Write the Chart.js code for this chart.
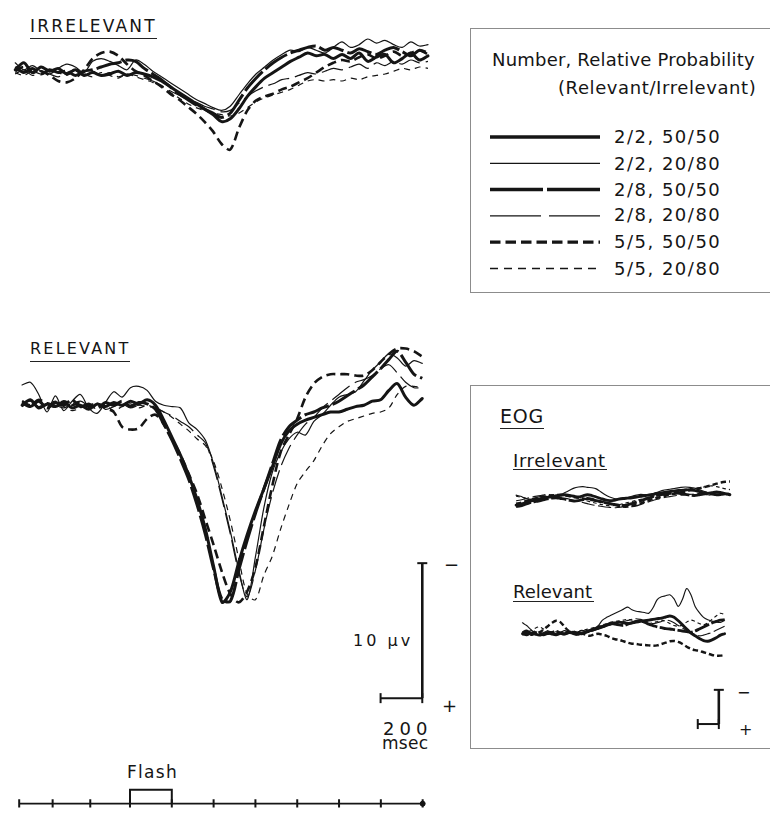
<!DOCTYPE html>
<html>
<head>
<meta charset="utf-8">
<script src="https://cdn.jsdelivr.net/npm/chart.js@4.4.1/dist/chart.umd.min.js"></script>
<style>
  body { margin: 0; background: #fff; }
  #fig { position: relative; width: 770px; height: 814px; overflow: hidden;
         font-family: "DejaVu Sans", sans-serif; color: #151515; }
  #fig canvas { position: absolute; }
  .t { position: absolute; white-space: nowrap; line-height: 1; }
  .u { position: absolute; height: 0; border-top: 1.5px solid #222; }
  .box { position: absolute; border: 1px solid #8c8c8c; border-right: none; }
</style>
</head>
<body>
<div id="fig">
  <div class="t" style="left:30px;top:18px;font-size:17px;letter-spacing:2.2px">IRRELEVANT</div>
  <div class="u" style="left:30px;top:38px;width:127px"></div>
  <div class="t" style="left:30px;top:341px;font-size:16px;letter-spacing:2.2px">RELEVANT</div>
  <div class="u" style="left:30px;top:361px;width:100px"></div>

  <div class="box" style="left:470px;top:28px;width:320px;height:263px"></div>
  <div class="t" style="left:492px;top:51px;font-size:18px;letter-spacing:0.2px">Number, Relative Probability</div>
  <div class="t" style="left:558px;top:79px;font-size:18px;letter-spacing:0.6px">(Relevant/Irrelevant)</div>
  <div class="t" style="left:614px;top:128px;font-size:18px;letter-spacing:1.5px">2/2, 50/50</div>
  <div class="t" style="left:614px;top:154.5px;font-size:18px;letter-spacing:1.5px">2/2, 20/80</div>
  <div class="t" style="left:614px;top:181px;font-size:18px;letter-spacing:1.5px">2/8, 50/50</div>
  <div class="t" style="left:614px;top:206px;font-size:18px;letter-spacing:1.5px">2/8, 20/80</div>
  <div class="t" style="left:614px;top:233px;font-size:18px;letter-spacing:1.5px">5/5, 50/50</div>
  <div class="t" style="left:614px;top:259.5px;font-size:18px;letter-spacing:1.5px">5/5, 20/80</div>

  <div class="box" style="left:470px;top:385px;width:320px;height:362px"></div>
  <div class="t" style="left:500px;top:407px;font-size:19px;letter-spacing:0.8px">EOG</div>
  <div class="u" style="left:500px;top:428px;width:44px"></div>
  <div class="t" style="left:513px;top:452px;font-size:18px;letter-spacing:0.6px">Irrelevant</div>
  <div class="u" style="left:513px;top:469px;width:94px"></div>
  <div class="t" style="left:513px;top:583px;font-size:18px">Relevant</div>
  <div class="u" style="left:513px;top:601px;width:81px"></div>
  <div class="t" style="left:737px;top:685px;font-size:16px">−</div>
  <div class="t" style="left:739px;top:722px;font-size:16px">+</div>

  <div class="t" style="left:353px;top:633px;font-size:16px;letter-spacing:3px">10 μv</div>
  <div class="t" style="left:444px;top:556px;font-size:18px">−</div>
  <div class="t" style="left:442px;top:697px;font-size:18px">+</div>
  <div class="t" style="left:383px;top:719.5px;font-size:18px;letter-spacing:5px">200</div>
  <div class="t" style="left:382px;top:735px;font-size:17px;letter-spacing:0.3px">msec</div>
  <div class="t" style="left:127px;top:764px;font-size:17px;letter-spacing:1.3px">Flash</div>
</div>

<script>
// Sample times (ms from flash onset)
const times = [
  -520, -480, -440, -400, -360, -320, -280, -240, -200, -160,
  -120, -80, -40, 0, 40, 80, 120, 160, 200, 240,
  280, 320, 360, 400, 440, 480, 520, 560, 600, 640,
  680, 720, 760, 800, 840, 880, 920, 960, 1000, 1040,
  1080, 1120, 1160, 1200, 1240, 1280, 1320, 1360, 1400
];

const conditions = ['2/2, 50/50', '2/2, 20/80', '2/8, 50/50', '2/8, 20/80', '5/5, 50/50', '5/5, 20/80'];

// ERP, irrelevant stimuli (µV, positive plotted down)
const irr2250 = [0.2, -0.3, 0.4, 0.0, 0.3, 0.1, 0.5, 0.2, 0.6, 0.4,
  0.6, 0.5, 0.3, 0.6, 0.4, 0.5, 0.7, 1.0, 1.4, 1.8,
  2.2, 2.6, 3.0, 3.4, 3.9, 3.7, 3.0, 2.1, 1.4, 0.8,
  0.4, 0.0, -0.4, -0.7, -1.0, -0.8, -0.9, -0.6, -0.9, -0.6,
  -1.0, -0.4, -0.7, -0.9, -0.3, -0.6, -1.0, -0.5, -0.8];
const irr2280 = [-0.3, 0.2, -0.1, 0.3, 0.5, 0.1, -0.2, 0.0, 0.4, -0.4,
  -0.6, -0.4, -0.1, 0.2, -0.5, -0.2, 0.3, 0.7, 1.1, 1.5,
  1.9, 2.3, 2.6, 2.9, 3.1, 2.8, 2.0, 1.2, 0.5, 0.0,
  -0.5, -0.9, -1.2, -1.1, -1.4, -1.2, -1.0, -1.4, -1.8, -1.4,
  -1.6, -2.0, -1.7, -1.9, -1.6, -1.4, -1.8, -1.5, -1.6];
const irr2850 = [0.0, 0.4, 0.1, 0.5, 0.2, 0.4, 0.3, 0.6, 0.3, 0.2,
  0.0, -0.2, -0.3, -0.5, -0.4, 0.1, 0.5, 0.9, 1.4, 1.9,
  2.3, 2.7, 3.0, 3.3, 3.6, 3.3, 2.4, 1.5, 0.8, 0.2,
  -0.3, -0.7, -1.0, -1.2, -1.4, -1.5, -1.2, -1.4, -1.2, -1.0,
  -1.3, -1.1, -0.9, -1.2, -1.4, -1.1, -0.8, -1.2, -1.0];
const irr2880 = [0.5, 0.2, 0.6, 0.3, 0.5, 0.7, 0.4, 0.2, 0.5, 0.3,
  0.6, 0.4, 0.7, 0.5, 0.6, 0.8, 1.0, 1.3, 1.7, 2.0,
  2.3, 2.5, 2.8, 3.0, 3.2, 3.1, 2.6, 2.1, 1.7, 1.4,
  1.2, 0.9, 0.8, 0.6, 0.4, 0.5, 0.3, 0.1, 0.2, 0.0,
  -0.2, 0.1, -0.3, -0.1, -0.4, -0.2, -0.5, -0.3, -0.4];
const irr5550 = [0.3, 0.0, 0.4, 0.3, 0.6, 1.0, 1.1, 0.8, 0.2, -0.6,
  -1.0, -1.1, -0.8, -0.2, 0.3, 0.6, 1.0, 1.4, 1.9, 2.3,
  2.8, 3.3, 3.9, 4.6, 5.5, 5.9, 4.4, 3.1, 2.4, 2.1,
  1.9, 1.6, 1.4, 1.1, 0.8, 0.4, 0.0, -0.3, -0.5, -0.4,
  -0.7, -0.9, -0.6, -0.8, -1.1, -0.8, -1.0, -1.2, -0.9];
const irr5580 = [0.4, 0.6, 0.3, 0.5, 0.2, 0.4, 0.6, 0.3, 0.5, 0.7,
  0.4, 0.6, 0.8, 0.5, 0.7, 0.9, 1.1, 1.4, 1.8, 2.2,
  2.6, 2.9, 3.1, 3.3, 3.4, 3.5, 3.3, 2.9, 2.5, 2.2,
  2.0, 1.8, 1.6, 1.3, 1.0, 0.9, 1.0, 0.9, 1.0, 0.8,
  0.9, 0.7, 0.6, 0.5, 0.3, 0.1, 0.2, 0.0, 0.1];

// ERP, relevant stimuli
const rel2250 = [0.4, 0.0, 0.6, 0.3, 0.5, 0.2, 0.6, 0.4, 0.7, 0.3,
  0.5, 0.2, 0.4, 0.1, 0.3, 0.0, 0.4, 1.5, 2.8, 4.1,
  5.6, 7.4, 9.6, 12.4, 15.0, 14.2, 12.0, 10.0, 8.2, 6.6,
  5.0, 3.3, 2.3, 1.8, 1.5, 1.3, 1.1, 0.9, 0.9, 0.7,
  0.5, 0.4, 0.1, 0.0, -0.7, -1.2, -0.2, 0.4, -0.1];
const rel2280 = [-1.1, -1.3, -0.4, 0.9, -0.3, 0.8, 0.1, -0.4, 0.6, 1.0,
  0.2, -0.6, -0.2, -0.9, -1.0, -0.7, 0.1, 0.4, 0.5, 0.6,
  1.7, 2.2, 3.0, 4.8, 7.2, 9.8, 12.6, 14.8, 11.6, 8.0,
  5.4, 3.9, 2.9, 2.4, 2.6, 1.6, 1.1, 0.4, -0.2, -0.4,
  -0.6, -1.4, -2.2, -2.8, -3.4, -3.1, -2.5, -2.9, -2.7];
const rel2850 = [0.2, 0.5, 0.1, 0.6, 0.2, 0.4, 0.0, 0.5, 0.3, 0.6,
  0.2, 0.4, 0.1, 0.5, 0.2, 0.3, 0.7, 1.8, 3.0, 4.4,
  5.9, 7.8, 10.0, 12.6, 14.8, 14.9, 12.6, 10.4, 8.4, 6.6,
  4.8, 3.0, 2.0, 1.5, 1.1, 0.9, 0.6, 0.4, 0.1, -0.3,
  -0.7, -1.1, -1.7, -2.3, -3.0, -3.6, -2.8, -1.9, -1.6];
const rel2880 = [0.3, 0.1, 0.5, 0.2, 0.4, 0.6, 0.3, 0.1, 0.4, 0.2,
  0.7, 0.5, 0.3, 0.6, 0.4, 0.5, 0.6, 0.9, 1.2, 1.6,
  2.0, 2.6, 3.2, 5.0, 7.4, 10.0, 12.8, 14.6, 12.6, 9.6,
  7.0, 5.0, 3.6, 2.6, 1.8, 1.3, 0.6, 0.1, -0.4, -0.9,
  -1.3, -1.5, -1.8, -2.3, -2.6, -2.0, -1.3, -0.9, -0.9];
const rel5550 = [0.1, 0.4, 0.0, 0.3, 0.5, 0.1, 0.4, 0.2, 0.5, 0.3,
  0.6, 0.9, 2.0, 2.2, 2.1, 1.4, 1.1, 1.8, 2.9, 4.1,
  5.5, 7.0, 8.9, 10.8, 12.8, 14.4, 15.0, 14.2, 12.4, 9.4,
  6.4, 3.9, 2.6, 1.4, -0.2, -1.2, -1.7, -1.9, -1.9, -1.9,
  -1.8, -1.8, -2.2, -2.8, -3.4, -3.8, -3.8, -3.6, -3.2];
const rel5580 = [0.5, 0.2, 0.6, 0.4, 0.1, 0.5, 0.8, 0.6, 0.3, 0.7,
  0.4, 0.8, 0.5, 0.3, 0.6, 0.4, 0.6, 0.9, 1.3, 1.8,
  2.3, 2.9, 3.4, 4.6, 6.6, 9.0, 11.8, 14.4, 14.8, 13.0,
  11.6, 9.6, 7.8, 6.2, 5.3, 4.5, 3.4, 2.5, 2.0, 1.6,
  1.4, 1.2, 1.0, 0.9, 0.6, -0.4, -1.0, -1.0, -0.9];

// EOG, irrelevant stimuli
const eogIrr2250 = [2.2, 2.0, 1.6, 1.2, 0.9, 0.6, 0.3, 0.1, -0.1, -0.3,
  -0.5, -0.6, -0.4, -0.2, 0.0, -0.3, -0.6, -0.4, 0.0, 0.4,
  0.8, 1.0, 0.9, 0.6, 0.4, 0.3, 0.2, 0.0, -0.2, -0.4,
  -0.5, -0.8, -1.0, -1.2, -1.4, -1.6, -1.7, -1.8, -1.9, -2.0,
  -1.8, -1.5, -1.2, -1.0, -1.2, -1.4, -1.2, -0.9, -0.6];
const eogIrr2280 = [-0.5, -0.2, 0.3, 0.6, 0.4, 0.0, -0.3, -0.1, 0.2, -0.2,
  -0.6, -1.2, -1.8, -2.4, -2.7, -2.8, -2.6, -2.5, -2.2, -1.4,
  -0.6, 0.0, 0.4, 0.6, 0.5, 0.2, -0.2, -0.5, -0.7, -0.6,
  -0.8, -1.0, -1.4, -1.8, -2.0, -2.2, -2.4, -2.6, -2.7, -2.6,
  -2.4, -2.0, -1.6, -1.2, -1.0, -0.8, -0.7, -0.8, -0.9];
const eogIrr2850 = [2.6, 2.4, 2.0, 1.6, 1.3, 1.1, 0.8, 0.5, 0.3, 0.2,
  0.4, 0.6, 0.9, 1.1, 1.0, 0.7, 0.4, 0.6, 1.0, 1.3,
  1.5, 1.8, 2.0, 2.2, 2.3, 2.1, 1.8, 1.4, 1.0, 0.6,
  0.2, -0.2, -0.5, -0.7, -0.9, -1.0, -1.1, -0.9, -0.7, -0.5,
  -0.4, -0.6, -0.8, -0.9, -0.8, -0.6, -0.7, -0.9, -0.7];
const eogIrr2880 = [1.0, 0.8, 0.5, 0.2, -0.1, -0.3, -0.5, -0.7, -0.6, -0.3,
  0.0, 0.3, 0.6, 0.9, 1.2, 1.5, 1.8, 2.1, 2.3, 2.5,
  2.7, 2.8, 2.9, 2.8, 2.7, 2.6, 2.6, 2.4, 2.0, 1.6,
  1.2, 0.8, 0.5, 0.2, 0.0, -0.2, -0.4, -0.5, -0.6, -0.7,
  -0.8, -0.9, -0.8, -0.6, -0.5, -0.6, -0.7, -0.6, -0.5];
const eogIrr5550 = [1.8, 1.6, 1.2, 0.8, 0.5, 0.2, 0.0, -0.2, -0.4, -0.5,
  -0.6, -0.4, -0.2, 0.0, 0.2, 0.4, 0.6, 0.8, 1.0, 1.2,
  1.5, 1.8, 2.1, 2.4, 2.6, 2.6, 2.4, 2.1, 1.7, 1.2,
  0.8, 0.4, 0.1, -0.2, -0.5, -0.8, -1.0, -1.3, -1.5, -1.8,
  -2.0, -2.3, -2.6, -2.9, -3.2, -3.6, -3.9, -4.1, -4.2];
const eogIrr5580 = [-0.2, 0.0, 0.3, 0.6, 0.9, 0.7, 0.4, 0.1, -0.2, -0.5,
  -0.7, -0.5, -0.2, 0.1, 0.4, 0.8, 1.1, 1.4, 1.7, 2.0,
  2.2, 2.4, 2.3, 2.1, 1.8, 1.5, 1.2, 0.9, 0.6, 0.3,
  0.0, -0.3, -0.6, -0.9, -1.2, -1.5, -1.7, -1.9, -2.1, -2.3,
  -2.4, -2.5, -2.7, -2.9, -3.0, -2.8, -2.5, -2.2, -2.0];

// EOG, relevant stimuli
const eogRel2250 = [0.6, 0.9, 0.4, 0.7, 1.0, 0.6, 0.3, 0.7, 0.9, 0.5,
  0.6, 0.2, 0.5, 0.8, 0.4, 0.1, -0.3, -0.8, -1.2, -1.6,
  -2.0, -2.4, -2.6, -2.8, -2.6, -2.4, -2.6, -2.8, -3.0, -3.2,
  -3.4, -3.6, -3.8, -4.0, -4.3, -4.6, -4.2, -3.2, -2.0, -0.8,
  0.4, 1.2, 2.0, 2.6, 2.8, 2.4, 1.8, 1.0, 0.6];
const eogRel2280 = [-2.6, -1.8, -0.6, 0.4, 0.8, 0.3, -0.2, 0.1, 0.6, 0.2,
  -0.3, 0.1, 0.5, 0.2, -0.4, -0.2, -0.6, -1.0, -1.8, -3.4,
  -4.2, -4.8, -5.4, -6.0, -6.6, -7.2, -6.4, -6.0, -5.8, -5.6,
  -5.4, -7.0, -9.4, -10.2, -10.5, -10.8, -9.6, -7.4, -9.5, -12.6,
  -10.8, -7.4, -5.6, -4.2, -3.5, -3.1, -2.8, -2.7, -3.4];
const eogRel2850 = [0.3, -0.2, 0.5, 0.2, 0.6, 0.9, 0.5, 0.2, -0.1, 0.4,
  0.7, 0.3, 0.0, 0.4, 0.6, 0.2, -0.2, -0.6, -1.0, -1.4,
  -1.9, -2.4, -2.2, -2.0, -1.8, -2.2, -2.6, -3.0, -3.2, -2.8,
  -2.2, -1.8, -1.4, -1.2, -0.9, -0.8, -0.6, -0.4, -0.2, 0.0,
  0.2, -0.2, -0.8, -1.4, -2.0, -2.6, -3.0, -3.4, -3.5];
const eogRel2880 = [0.2, 0.6, 0.3, -0.2, 0.1, 0.5, 0.8, 0.4, 0.0, 0.3,
  0.7, 0.4, -0.1, 0.2, 0.5, 0.3, 0.0, -0.4, -0.8, -1.2,
  -1.6, -2.0, -2.4, -2.8, -3.0, -3.3, -3.6, -3.8, -3.6, -3.2,
  -2.8, -2.4, -2.6, -3.0, -3.4, -3.2, -2.6, -1.8, -1.0, -0.4,
  0.2, 0.8, 1.2, 1.0, 0.6, 0.2, -0.4, -1.0, -1.6];
const eogRel5550 = [0.8, 0.4, 0.9, 0.5, 0.2, -0.6, -1.6, -2.6, -3.2, -2.8,
  -1.4, -0.2, 0.4, 0.8, 0.5, 0.9, 1.2, 0.8, 0.6, 0.9,
  1.2, 1.8, 2.2, 2.4, 2.8, 3.2, 3.5, 3.6, 3.8, 3.9,
  4.0, 4.1, 4.0, 3.6, 3.2, 2.8, 2.7, 3.0, 3.6, 4.4,
  5.0, 5.4, 5.6, 6.0, 6.4, 6.8, 7.0, 7.0, 6.8];
const eogRel5580 = [0.4, 0.1, -0.3, -1.0, -1.4, -0.8, -0.2, 0.3, 0.6, 0.2,
  -0.2, 0.3, 0.6, 0.2, -0.3, -0.6, -0.9, -1.2, -1.6, -2.0,
  -2.4, -2.8, -3.0, -3.2, -3.4, -3.6, -3.4, -3.0, -2.8, -2.6,
  -2.4, -2.6, -3.0, -3.4, -3.0, -2.4, -1.8, -1.6, -2.0, -2.8,
  -3.4, -3.0, -2.4, -2.0, -2.6, -3.6, -4.6, -5.4, -5.0];

// time line and calibration
const flashTicks = [-530, -370, -190, 0, 200, 400, 600, 800, 1000, 1200, 1400];
const flashStart = 0;
const flashEnd = 200;
const calMs = 200;
const calUv = 10;

const INK = '#151515';
const fig = document.getElementById('fig');

// heavy/thin, solid/long dash/short dash
const lineLook = [
  { width: 3.0, dash: [] },
  { width: 1.2, dash: [] },
  { width: 3.0, dash: [26, 4] },
  { width: 1.2, dash: [22, 6] },
  { width: 2.6, dash: [9, 5] },
  { width: 1.2, dash: [6, 5] }
];
const legendLook = [
  { width: 3.5, dash: [] },
  { width: 1.3, dash: [] },
  { width: 3.5, dash: [53, 4] },
  { width: 1.3, dash: [51, 8] },
  { width: 3.2, dash: [10.5, 5] },
  { width: 1.3, dash: [8, 6] }
];

function addCanvas(box) {
  const c = document.createElement('canvas');
  c.width = box.w;
  c.height = box.h;
  c.style.left = box.x + 'px';
  c.style.top = box.y + 'px';
  fig.appendChild(c);
  return c;
}

function makePanel(box, xr, yr, reverse, datasets) {
  return new Chart(addCanvas(box), {
    type: 'line',
    data: { datasets },
    options: {
      responsive: false,
      animation: false,
      events: [],
      layout: { padding: 0 },
      plugins: { legend: { display: false }, tooltip: { enabled: false } },
      scales: {
        x: { type: 'linear', display: false, min: xr[0], max: xr[1] },
        y: { type: 'linear', display: false, min: yr[0], max: yr[1], reverse }
      }
    }
  });
}

// panel whose scales put t=0 at zeroX and 0 µV at zeroY (negative up)
function wavePanel(box, zeroX, pxPerMs, zeroY, pxPerUv, datasets) {
  makePanel(box,
    [(box.x - zeroX) / pxPerMs, (box.x + box.w - zeroX) / pxPerMs],
    [(box.y - zeroY) / pxPerUv, (box.y + box.h - zeroY) / pxPerUv],
    true, datasets);
}

function traces(series, wScale, dScale) {
  return series.map((vals, i) => ({
    label: conditions[i],
    data: vals.map((v, j) => ({ x: times[j], y: v })),
    borderColor: INK,
    borderWidth: lineLook[i].width * wScale,
    borderDash: lineLook[i].dash.map(d => d * dScale),
    borderJoinStyle: 'round',
    borderCapStyle: lineLook[i].dash.length ? 'butt' : 'round',
    tension: 0.3,
    pointRadius: 0,
    fill: false
  }));
}

function seg(points, width) {
  return { data: points, borderColor: INK, borderWidth: width, pointRadius: 0, tension: 0, fill: false };
}

function marks(points, rot, r, width) {
  return {
    data: points, showLine: false, pointStyle: 'line', pointRotation: rot,
    pointRadius: r, pointBorderWidth: width, pointBorderColor: INK, borderColor: INK
  };
}

function calBar(t, v, width) {
  return [
    seg([{ x: t - calMs, y: v }, { x: t, y: v }], width),
    seg([{ x: t, y: v }, { x: t, y: v - calUv }], width + 0.6),
    marks([{ x: t - calMs, y: v }, { x: t, y: v }], 90, 5, width),
    marks([{ x: t, y: v - calUv }], 0, 5, width)
  ];
}

// ERP panels
wavePanel({ x: 10, y: 20, w: 460, h: 150 }, 127, 0.215, 67, 14,
  traces([irr2250, irr2280, irr2850, irr2880, irr5550, irr5580], 1, 1));

wavePanel({ x: 10, y: 335, w: 460, h: 390 }, 127, 0.215, 395, 14,
  traces([rel2250, rel2280, rel2850, rel2880, rel5550, rel5580], 1, 1)
    .concat(calBar(1400, 22.1, 2)));

// EOG panels
wavePanel({ x: 505, y: 470, w: 255, h: 50 }, 574, 0.1114, 497, 3.7,
  traces([eogIrr2250, eogIrr2280, eogIrr2850, eogIrr2880, eogIrr5550, eogIrr5580], 0.95, 0.6));

wavePanel({ x: 505, y: 560, w: 255, h: 185 }, 574, 0.1114, 630, 3.7,
  traces([eogRel2250, eogRel2280, eogRel2850, eogRel2880, eogRel5550, eogRel5580], 0.95, 0.6)
    .concat(calBar(1345, 27, 2)));

// Flash time line
const tlBox = { x: 0, y: 778, w: 470, h: 36 };
makePanel(tlBox,
  [(tlBox.x - 127) / 0.215, (tlBox.x + tlBox.w - 127) / 0.215],
  [-(tlBox.y + tlBox.h - 808) / 21.6, (808 - tlBox.y) / 21.6],
  false, [
    seg([{ x: flashTicks[0], y: 0 }, { x: flashTicks[flashTicks.length - 1], y: 0 }], 1.6),
    marks(flashTicks.map(t => ({ x: t, y: 0 })), 90, 4.5, 2),
    seg([{ x: flashStart, y: 0 }, { x: flashStart, y: 1 }, { x: flashEnd, y: 1 }, { x: flashEnd, y: 0 }], 2),
    { data: [{ x: flashTicks[flashTicks.length - 1], y: 0 }], showLine: false,
      pointRadius: 2.5, pointBackgroundColor: INK, pointBorderColor: INK }
  ]);

// Legend line samples
const lgBox = { x: 480, y: 120, w: 130, h: 165 };
makePanel(lgBox, [-10 / 110, 120 / 110], [-17 / 26.3, (165 - 17) / 26.3], true,
  conditions.map((c, i) => ({
    label: c,
    data: [{ x: 0, y: i }, { x: 1, y: i }],
    borderColor: INK,
    borderWidth: legendLook[i].width,
    borderDash: legendLook[i].dash,
    pointRadius: 0,
    tension: 0
  })));
</script>
</body>
</html>
